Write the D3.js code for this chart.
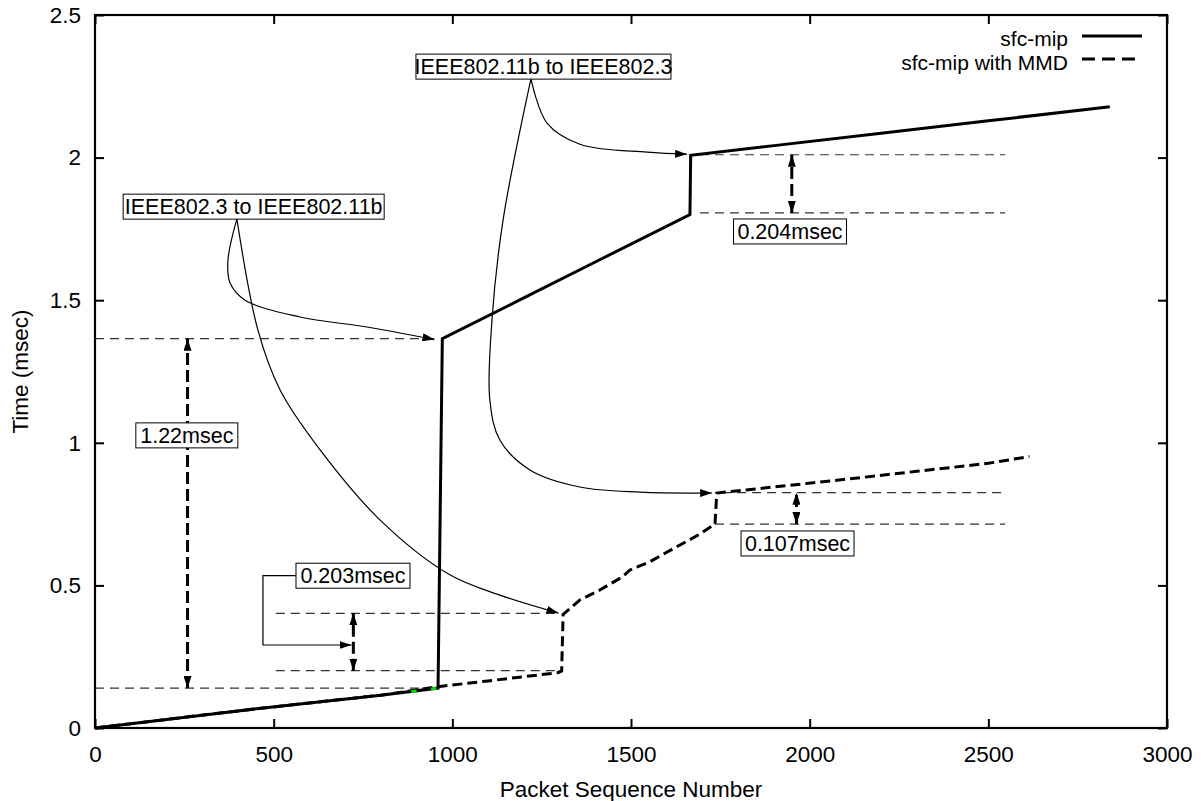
<!DOCTYPE html>
<html><head><meta charset="utf-8">
<script src="https://cdn.jsdelivr.net/npm/d3@7"></script>
<style>body{margin:0;background:#fff}text{font-family:"Liberation Sans",Arial,sans-serif}</style>
</head><body><svg id="c" width="1203" height="801"></svg>
<script>
// ---- data ----
const xTicks = [0,500,1000,1500,2000,2500,3000];
const yTicks = [0,0.5,1,1.5,2,2.5];
const yTickLabels = ["0","0.5","1","1.5","2","2.5"];
const seriesNames = ["sfc-mip","sfc-mip with MMD"];
// sfc-mip (solid)
const sfcX = [0,200,400,600,800,960,972,1200,1400,1665,1667,1900,2200,2500,2840];
const sfcY = [0,0.03,0.06,0.088,0.115,0.14,1.365,1.508,1.634,1.80,2.008,2.042,2.085,2.129,2.178];
// sfc-mip with MMD (dashed)
const mmdX = [0,200,400,600,800,960,1100,1295,1306,1310,1357,1413,1475,1497,1553,1620,1693,1729,1735,1740,1900,2100,2300,2500,2615];
const mmdY = [0,0.03,0.06,0.088,0.115,0.145,0.165,0.194,0.2,0.398,0.449,0.484,0.529,0.554,0.583,0.63,0.68,0.71,0.713,0.824,0.845,0.872,0.9,0.928,0.952];
// small green fragments visible near the first handover
const greenX = [[885,900],[940,955]];
const greenY = [[0.128,0.130],[0.137,0.139]];
// annotation labels
const labels = ["IEEE802.11b to IEEE802.3","IEEE802.3 to IEEE802.11b","1.22msec","0.203msec","0.204msec","0.107msec"];

const m={l:95,r:1167,t:15,b:728};
const svg=d3.select("#c");
const x=d3.scaleLinear().domain([0,3000]).range([m.l,m.r]);
const y=d3.scaleLinear().domain([0,2.5]).range([m.b,m.t]);

const defs=svg.append("defs");
defs.append("marker").attr("id","ah").attr("viewBox","0 0 12 8").attr("refX",12).attr("refY",4)
 .attr("markerWidth",12).attr("markerHeight",8).attr("markerUnits","userSpaceOnUse").attr("orient","auto-start-reverse")
 .append("path").attr("d","M0,0L12,4L0,8Z").attr("fill","#000");

const fs=22.5, fb=21.5, fl=21;
// axes
const ax=svg.append("g");
ax.append("g").attr("transform",`translate(0,${m.b})`).call(d3.axisBottom(x).tickValues(xTicks).tickSize(-9).tickPadding(18).tickFormat(d3.format("d")))
 .call(g=>{g.select(".domain").remove();g.selectAll("text").attr("font-size",fs).attr("fill","#000");g.selectAll("line").attr("stroke-width",2);});
ax.append("g").attr("transform",`translate(0,${m.t})`).call(d3.axisTop(x).tickValues(xTicks).tickSize(-9).tickFormat(""))
 .call(g=>{g.select(".domain").remove();g.selectAll("line").attr("stroke-width",2);});
ax.append("g").attr("transform",`translate(${m.l},0)`).call(d3.axisLeft(y).tickValues(yTicks).tickSize(-9).tickPadding(14).tickFormat((d,i)=>yTickLabels[i]))
 .call(g=>{g.select(".domain").remove();g.selectAll("text").attr("font-size",fs).attr("fill","#000");g.selectAll("line").attr("stroke-width",2);});
ax.append("g").attr("transform",`translate(${m.r},0)`).call(d3.axisRight(y).tickValues(yTicks).tickSize(-9).tickFormat(""))
 .call(g=>{g.select(".domain").remove();g.selectAll("line").attr("stroke-width",2);});
svg.append("rect").attr("x",m.l).attr("y",m.t).attr("width",m.r-m.l).attr("height",m.b-m.t).attr("fill","none").attr("stroke","#000").attr("stroke-width",2.2);

svg.append("text").attr("x",(m.l+m.r)/2).attr("y",797).attr("text-anchor","middle").attr("font-size",fs).text("Packet Sequence Number");
svg.append("text").attr("transform",`translate(28,${(m.t+m.b)/2}) rotate(-90)`).attr("text-anchor","middle").attr("font-size",fs).text("Time (msec)");

// helpers
const line=d3.line().x(d=>x(d[0])).y(d=>y(d[1]));
const curve=d3.line().x(d=>x(d[0])).y(d=>y(d[1])).curve(d3.curveCatmullRom.alpha(0.5));

// reference dashed lines (thin): [x0, x1, y]
const refs=[[0,955,1.365],[0,962,0.14],[506,1301,0.402],[506,1301,0.201],[1693,2547,2.01],[1693,2547,1.806],[1755,2547,0.825],[1735,2547,0.715]];
refs.forEach(r=>{
 svg.append("path").attr("d",line([[r[0],r[2]],[r[1],r[2]]])).attr("fill","none").attr("stroke","#333").attr("stroke-width",1.2).attr("stroke-dasharray","9,6");
});

// data lines
svg.append("path").attr("d",line(mmdX.map((v,i)=>[v,mmdY[i]]))).attr("fill","none").attr("stroke","#000").attr("stroke-width",3).attr("stroke-dasharray","10,5");
svg.append("path").attr("d",line(sfcX.map((v,i)=>[v,sfcY[i]]))).attr("fill","none").attr("stroke","#000").attr("stroke-width",3);
greenX.forEach((gx,i)=>svg.append("path").attr("d",line(gx.map((v,j)=>[v,greenY[i][j]]))).attr("stroke","#00dd00").attr("stroke-width",3));

// thick dashed double arrows: [x, y0, y1]
const darr=[[259,0.14,1.365],[723,0.201,0.402],[1950,1.806,2.01],[1963,0.715,0.825]];
darr.forEach(a=>{
 svg.append("path").attr("d",line([[a[0],a[1]],[a[0],a[2]]])).attr("fill","none").attr("stroke","#000").attr("stroke-width",3)
  .attr("stroke-dasharray","12,5").attr("marker-start","url(#ah)").attr("marker-end","url(#ah)");
});

// connector curves
const conns=[
 [[1220,2.276],[1265,2.121],[1357,2.047],[1545,2.019],[1657,2.012]],
 [[1220,2.276],[1142,1.781],[1111,1.431],[1105,1.150],[1133,1.010],[1217,0.905],[1357,0.845],[1525,0.827],[1727,0.824]],
 [[397,1.785],[372,1.640],[378,1.560],[420,1.500],[574,1.441],[761,1.406],[950,1.362]],
 [[397,1.785],[456,1.395],[518,1.185],[630,0.975],[798,0.729],[993,0.537],[1133,0.466],[1297,0.403]]
];
conns.forEach(c=>svg.append("path").attr("d",curve(c)).attr("fill","none").attr("stroke","#000").attr("stroke-width",1.2).attr("marker-end","url(#ah)"));
// elbow connector for 0.203msec
svg.append("path").attr("d",line([[562,0.534],[470,0.534],[470,0.291],[718,0.291]])).attr("fill","none").attr("stroke","#000").attr("stroke-width",1.2).attr("marker-end","url(#ah)");

// label boxes: [text, center x (data), center y (data), box width px]
const boxes=[[labels[0],1255,2.319,255],[labels[1],444,1.828,261],[labels[2],257,1.026,102],[labels[3],722,0.534,114],[labels[4],1945,1.741,113],[labels[5],1966,0.647,113]];
boxes.forEach(b=>{
 const g=svg.append("g");
 g.append("rect").attr("x",x(b[1])-b[3]/2).attr("y",y(b[2])-12.5).attr("width",b[3]).attr("height",25).attr("fill","#fff").attr("stroke","#000").attr("stroke-width",1);
 g.append("text").attr("x",x(b[1])).attr("y",y(b[2])+7.7).attr("text-anchor","middle").attr("font-size",fb).text(b[0]);
});

// legend
const lg=[[seriesNames[0],null,46,36],[seriesNames[1],"13,7",70,59]];
lg.forEach(l=>{
 svg.append("text").attr("x",1068).attr("y",l[2]).attr("text-anchor","end").attr("font-size",fl).text(l[0]);
 svg.append("line").attr("x1",1082).attr("x2",1142).attr("y1",l[3]).attr("y2",l[3]).attr("stroke","#000").attr("stroke-width",3).attr("stroke-dasharray",l[1]);
});
</script></body></html>
